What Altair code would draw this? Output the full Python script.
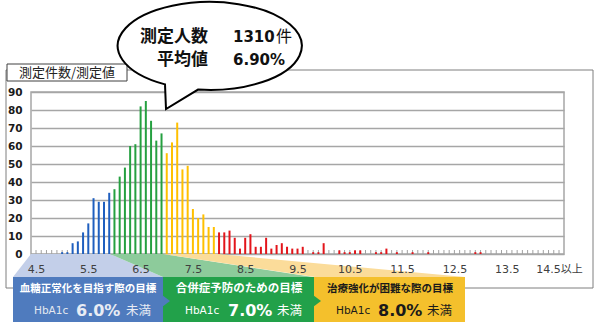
import altair as alt
import pandas as pd

# ---- data -------------------------------------------------------------
hba1c = [
    4.5, 4.6, 4.7, 4.8, 4.9, 5.0, 5.1, 5.2, 5.3, 5.4,
    5.5, 5.6, 5.7, 5.8, 5.9, 6.0, 6.1, 6.2, 6.3, 6.4,
    6.5, 6.6, 6.7, 6.8, 6.9, 7.0, 7.1, 7.2, 7.3, 7.4,
    7.5, 7.6, 7.7, 7.8, 7.9, 8.0, 8.1, 8.2, 8.3, 8.4,
    8.5, 8.6, 8.7, 8.8, 8.9, 9.0, 9.1, 9.2, 9.3, 9.4,
    9.5, 9.6, 9.7, 9.8, 9.9, 10.0, 10.1, 10.2, 10.3, 10.4,
    10.5, 10.6, 10.7, 10.8, 10.9, 11.0, 11.1, 11.2, 11.3, 11.4,
    11.5, 11.6, 11.7, 11.8, 11.9, 12.0, 12.1, 12.2, 12.3, 12.4,
    12.5, 12.6, 12.7, 12.8, 12.9, 13.0, 13.1, 13.2, 13.3, 13.4,
    13.5, 13.6, 13.7, 13.8, 13.9, 14.0, 14.1, 14.2, 14.3, 14.4,
    14.5,
]
counts = [
    0, 0, 0, 0, 0, 1, 1, 6, 7, 12,
    17, 31, 29, 29, 34, 36, 43, 48, 60, 61,
    82, 85, 74, 63, 67, 56, 62, 73, 47, 49,
    25, 20, 22, 15, 15, 12, 12, 13, 9, 3,
    9, 11, 4, 4, 9, 3, 5, 6, 4, 3,
    3, 4, 0, 1, 1, 6, 0, 0, 2, 1,
    1, 2, 2, 0, 0, 1, 1, 3, 0, 1,
    0, 0, 1, 0, 0, 1, 0, 0, 0, 0,
    0, 0, 0, 0, 1, 1, 0, 0, 0, 0,
    0, 0, 0, 0, 0, 0, 0, 0, 0, 0,
    0,
]
x_tick_values = [4.5, 5.5, 6.5, 7.5, 8.5, 9.5, 10.5, 11.5, 12.5, 13.5, 14.5]
y_tick_values = [0, 10, 20, 30, 40, 50, 60, 70, 80, 90]
groups = ["normal", "prevent", "hard", "over"]
group_colors = ["#1F5FBF", "#25A040", "#FFC000", "#E3151B"]

df = pd.DataFrame({"v": hba1c, "n": counts})
df["grp"] = [
    "normal" if v < 6.0 else "prevent" if v < 7.0 else "hard" if v < 8.0 else "over"
    for v in hba1c
]

JP = "Noto Sans CJK JP"
LAT = "DejaVu Sans, Noto Sans CJK JP"
one = alt.Data(values=[{"k": 1}])

def txt(x, y, s, size, color="#000000", weight="normal", align="left", font=JP):
    return alt.Chart(one).mark_text(
        align=align, baseline="middle", fontSize=size, fontWeight=weight,
        font=font, color=color
    ).encode(x=alt.value(x), y=alt.value(y), text=alt.value(s))

def rect(x1, x2, y1, y2, fill, stroke=None, sw=0):
    kw = dict(fill=fill, strokeWidth=sw)
    if stroke:
        kw["stroke"] = stroke
    return alt.Chart(one).mark_rect(**kw).encode(
        x=alt.value(x1), x2=alt.value(x2), y=alt.value(y1), y2=alt.value(y2))

def shape(path, fill, stroke=None, sw=0):
    kw = dict(shape=path, size=4, filled=True, fill=fill, opacity=1, strokeWidth=sw)
    if stroke:
        kw["stroke"] = stroke
    return alt.Chart(one).mark_point(**kw).encode(x=alt.value(0), y=alt.value(0))

# ---- main bars --------------------------------------------------------
bars = alt.Chart(df).mark_bar(size=2).encode(
    x=alt.X("v:Q", scale=alt.Scale(domain=[4.5, 14.5], nice=False, zero=False),
            axis=alt.Axis(values=x_tick_values, title=None, grid=False, domain=False,
                          ticks=False, labelPadding=9, labelFontSize=11, labelFont=LAT,
                          labelColor="#404040", zindex=1,
                          labelExpr="datum.value == 14.5 ? '14.5以上' : format(datum.value, '.1f')")),
    y=alt.Y("n:Q", scale=alt.Scale(domain=[0, 90], nice=False),
            axis=alt.Axis(values=y_tick_values, title=None, domain=False, ticks=False,
                          gridColor="#A6A6A6", gridWidth=1.5, labelPadding=9,
                          labelFontSize=10.5, labelFont=LAT, labelFontWeight="bold",
                          labelColor="#1A1A1A")),
    color=alt.Color("grp:N", scale=alt.Scale(domain=groups, range=group_colors), legend=None),
)

ticks = alt.Chart(df).mark_rule(color="#A0A0A0", strokeWidth=1).encode(
    x="v:Q", y=alt.value(162), y2=alt.value(158))

# ---- decorations (pixel positions relative to plot origin) -------------
frame = alt.Chart(one).mark_rect(fill="transparent", stroke="#7F7F7F", strokeWidth=1).encode(
    x=alt.value(-25), x2=alt.value(562), y=alt.value(-22), y2=alt.value(196))

tri_blue = shape("M 0 162 L 79 162 L 132 185 L -18 185 Z", "#C3CFE9")
tri_green = shape("M 79 162 L 132 162 L 282 185 L 132 185 Z", "#8DCB9B")
tri_yellow = shape("M 132 162 L 186 162 L 434 185 L 284 185 Z", "#FBDC9A")

box_blue = rect(-18, 132, 185, 230, "#4F7BBE")
box_green = rect(132, 283, 185, 230, "#22A14A")
box_yellow = rect(283, 434, 185, 230, "#F4C02C")
ptr_blue = shape("M 131 203 L 139 209 L 131 215 Z", "#4F7BBE")
ptr_green = shape("M 282 203 L 290 209 L 282 215 Z", "#22A14A")

label_box = rect(-24, 96, -28, -11, "#FFFFFF", "#404040", 1)
label_txt = txt(36, -19.5, "測定件数/測定値", 13, "#222222", align="center")

bubble = shape("M 134 -7.6 A 92 44 0 1 1 167 -2.4 L 135 17 Z", "#FFFFFF", "#000000", 2)

texts = [
    txt(177, -55, "測定人数", 17, "#111111", "bold", "right"),
    txt(202, -55, "1310", 15, "#111111", "bold", font=LAT),
    txt(245, -55, "件", 16, "#111111"),
    txt(177, -32, "平均値", 17, "#111111", "bold", "right"),
    txt(202, -32, "6.90%", 15, "#111111", "bold", font=LAT),
    # blue box
    txt(57, 197, "血糖正常化を目指す際の目標", 10.5, "#FFFFFF", "bold", "center"),
    txt(3, 219, "HbA1c", 10.5, "#E4E8F0", font=LAT),
    txt(45, 219, "6.0%", 16, "#E8ECF4", "bold", font=LAT),
    txt(95, 219, "未満", 12.5, "#E8ECF4"),
    # green box
    txt(208, 197, "合併症予防のための目標", 11.5, "#FFFFFF", "bold", "center"),
    txt(154, 219, "HbA1c", 10.5, "#FFFFFF", font=LAT),
    txt(197, 219, "7.0%", 16, "#FFFFFF", "bold", font=LAT),
    txt(246, 219, "未満", 12.5, "#FFFFFF"),
    # yellow box
    txt(359, 197, "治療強化が困難な際の目標", 10.5, "#1A1A1A", "bold", "center"),
    txt(305, 219, "HbA1c", 10.5, "#1A1A1A", font=LAT),
    txt(347, 219, "8.0%", 16, "#1A1A1A", "bold", font=LAT),
    txt(396, 219, "未満", 12.5, "#1A1A1A"),
]

chart = alt.layer(
    frame, tri_blue, tri_green, tri_yellow, ticks, bars,
    box_blue, box_green, box_yellow, ptr_blue, ptr_green,
    label_box, label_txt, bubble, *texts
).properties(
    width=533, height=162,
    autosize=alt.AutoSizeParams(type="none"),
    padding={"left": 31, "top": 92, "right": 32, "bottom": 71},
    background="#FFFFFF",
).configure_view(stroke="#A6A6A6", strokeWidth=1.5)

chart.save("out.html", embed_options={"renderer": "svg", "actions": False})
